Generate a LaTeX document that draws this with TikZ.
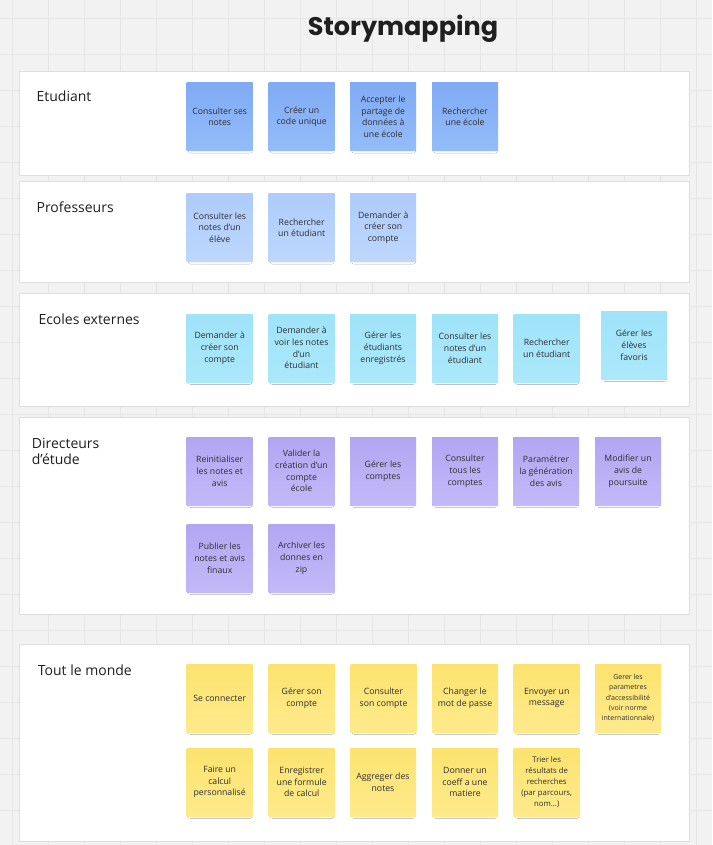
\documentclass[tikz,border=0pt]{standalone}
\usepackage{fontspec}
\setmainfont{Open Sans}
\newfontfamily\titlefont{Poppins}
\usetikzlibrary{shadows.blur}
\definecolor{bgc}{HTML}{F2F2F2}
\definecolor{gridc}{HTML}{E6E6E6}
\definecolor{lanec}{HTML}{DEDEDE}
\definecolor{bluetop}{HTML}{80ABF4}
\definecolor{bluebot}{HTML}{93BCF9}
\definecolor{lbtop}{HTML}{AECBFB}
\definecolor{lbbot}{HTML}{BDD7FD}
\definecolor{cytop}{HTML}{9FE3F9}
\definecolor{cybot}{HTML}{ABE8FB}
\definecolor{putop}{HTML}{B2A6F2}
\definecolor{pubot}{HTML}{C2B9F8}
\definecolor{yetop}{HTML}{FCE36E}
\definecolor{yebot}{HTML}{FEEA8C}
\definecolor{txt}{HTML}{2F2F2F}
\definecolor{labc}{HTML}{1F1F1F}
\begin{document}
\begin{tikzpicture}[x=1pt,y=-1pt,
  lane/.style={draw=lanec, fill=white, line width=1pt, rectangle, anchor=north west, inner sep=0pt, minimum width=669.7pt},
  lanelabel/.style={anchor=base west, inner sep=0pt, text=labc, font=\fontsize{14}{16}\selectfont, align=left},
  sticky/.style={rectangle, minimum width=66pt, minimum height=68pt, inner sep=0pt, align=center, text=txt,
     font=\fontsize{8.7}{11.8}\selectfont,
     blur shadow={shadow xshift=0.5pt, shadow yshift=-4pt, shadow blur steps=8, shadow blur radius=3pt, shadow opacity=16, shadow scale=0.89}},
  bluest/.style={sticky, top color=bluetop, bottom color=bluebot},
  lbst/.style={sticky, top color=lbtop, bottom color=lbbot},
  cyst/.style={sticky, top color=cytop, bottom color=cybot},
  pust/.style={sticky, top color=putop, bottom color=pubot},
  yest/.style={sticky, top color=yetop, bottom color=yebot}]
\useasboundingbox (0,0) rectangle (712,845);
\fill[bgc] (0,0) rectangle (712,845);
\foreach \gx in {12.5,48.5,...,700} \draw[gridc, line width=1pt] (\gx,0) -- (\gx,845);
\foreach \gy in {18.7,54.7,...,840} \draw[gridc, line width=1pt] (0,\gy) -- (712,\gy);

\node[anchor=base, inner sep=0pt, text=labc, font=\titlefont\bfseries\fontsize{25.5}{30}\selectfont] (title) at (403,35.5) {Storymapping};

% lanes
\node[lane, minimum height=104.8pt] (lane1) at (19.3,70.7) {};
\node[lane, minimum height=101.6pt] (lane2) at (19.3,180.7) {};
\node[lane, minimum height=112.7pt] (lane3) at (19.3,293.3) {};
\node[lane, minimum height=197.6pt] (lane4) at (19.3,416.7) {};
\node[lane, minimum height=196.7pt] (lane5) at (19.3,644.3) {};

\node[lanelabel] (l1) at (36.4,101.7) {Etudiant};
\node[lanelabel] (l2) at (36.4,212.3) {Professeurs};
\node[lanelabel] (l3) at (38.3,324.3) {Ecoles externes};
\node[lanelabel] (l4) at (31.7,448.3) {Directeurs};
\node[lanelabel] (l4b) at (31.7,464.3) {d'étude};
\node[lanelabel] (l5) at (37.7,675) {Tout le monde};

% Etudiant
\node[bluest] (e1) at (219.7,116.7) {Consulter ses\\notes};
\node[bluest] (e2) at (301.7,116.7) {Créer un\\code unique};
\node[bluest] (e3) at (383.2,116.7) {Accepter le\\partage de\\données à\\une école};
\node[bluest] (e4) at (465,116.7) {Rechercher\\une école};

% Professeurs
\node[lbst] (p1) at (219.7,227.7) {Consulter les\\notes d'un\\élève};
\node[lbst] (p2) at (301.7,227.7) {Rechercher\\un étudiant};
\node[lbst] (p3) at (383.2,227.7) {Demander à\\créer son\\compte};

% Ecoles externes
\node[cyst] (c1) at (219.7,348) {Demander à\\créer son\\compte};
\node[cyst] (c2) at (301.5,348) {Demander à\\voir les notes\\d'un\\étudiant};
\node[cyst] (c3) at (383,348) {Gérer les\\étudiants\\enregistrés};
\node[cyst] (c4) at (465,348) {Consulter les\\notes d'un\\étudiant};
\node[cyst] (c5) at (546.7,348) {Rechercher\\un étudiant};
\node[cyst] (c6) at (634,345) {Gérer les\\élèves\\favoris};

% Directeurs
\node[pust] (d1) at (219.7,471) {Reinitialiser\\les notes et\\avis};
\node[pust] (d2) at (301.5,471) {Valider la\\création d'un\\compte\\école};
\node[pust] (d3) at (383,471) {Gérer les\\comptes};
\node[pust] (d4) at (465,471) {Consulter\\tous les\\comptes};
\node[pust] (d5) at (546,471) {Paramétrer\\la génération\\des avis};
\node[pust] (d6) at (628,471) {Modifier un\\avis de\\poursuite};
\node[pust] (d7) at (219.7,558) {Publier les\\notes et avis\\finaux};
\node[pust] (d8) at (301.5,558) {Archiver les\\donnes en\\zip};

% Tout le monde
\node[yest] (t1) at (219.7,698) {Se connecter};
\node[yest] (t2) at (301.7,698) {Gérer son\\compte};
\node[yest] (t3) at (383.5,698) {Consulter\\son compte};
\node[yest] (t4) at (465,698) {Changer le\\mot de passe};
\node[yest] (t5) at (546.7,698) {Envoyer un\\message};
\node[yest, font=\fontsize{7}{10.3}\selectfont] (t6) at (628,698) {Gerer les\\parametres\\d'accessibilité\\(voir norme\\internationnale)};
\node[yest] (t7) at (219.7,782) {Faire un\\calcul\\personnalisé};
\node[yest] (t8) at (301.7,782) {Enregistrer\\une formule\\de calcul};
\node[yest] (t9) at (383,782) {Aggreger des\\notes};
\node[yest] (t10) at (465,782) {Donner un\\coeff a une\\matiere};
\node[yest, font=\fontsize{7.8}{11}\selectfont] (t11) at (546.7,782) {Trier les\\résultats de\\recherches\\(par parcours,\\nom...)};
\end{tikzpicture}
\end{document}
